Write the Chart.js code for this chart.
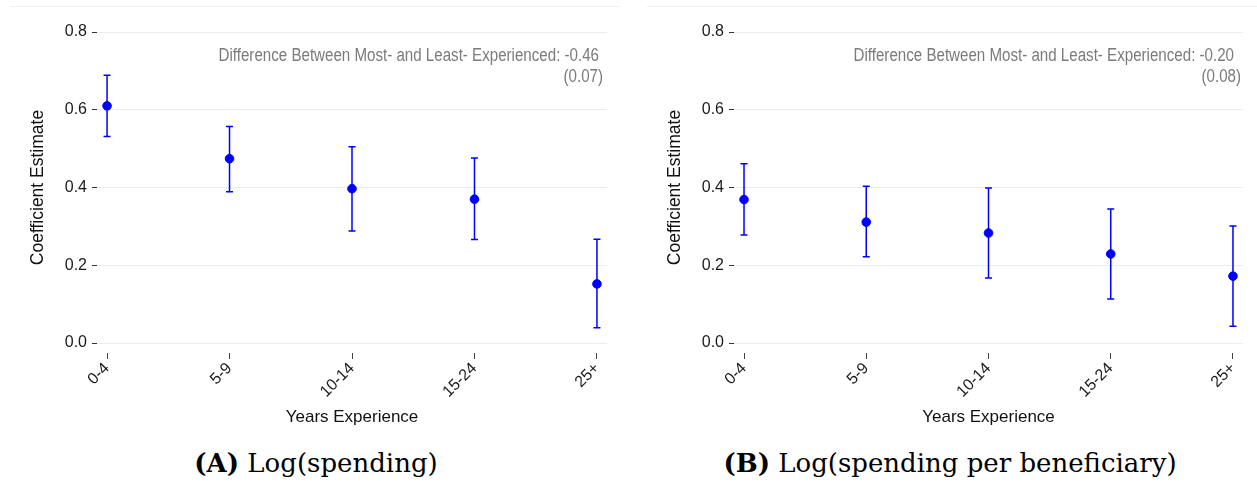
<!DOCTYPE html>
<html>
<head>
<meta charset="utf-8">
<script src="https://cdn.jsdelivr.net/npm/chart.js@4/dist/chart.umd.min.js"></script>
<style>
  body { margin: 0; background: #fff; width: 1257px; height: 499px; position: relative; overflow: hidden; }
  .panel { position: absolute; top: 0; width: 628px; height: 440px; }
  .topline { position: absolute; top: 6px; height: 1px; background: #eef1f1; }
  .cap { position: absolute; top: 447px; line-height: 32px; font-family: 'DejaVu Serif', 'Liberation Serif', serif;
         font-size: 26px; color: #000; white-space: nowrap; transform: translateX(-50%); }
</style>
</head>
<body>
<div class="topline" style="left:10px;width:610px"></div>
<div class="topline" style="left:647px;width:610px"></div>
<div class="panel" style="left:0"><canvas id="chartA" width="628" height="440"></canvas></div>
<div class="panel" style="left:637px"><canvas id="chartB" width="628" height="440"></canvas></div>
<div class="cap" style="left:316px"><b>(A)</b> Log(spending)</div>
<div class="cap" style="left:950px"><b>(B)</b> Log(spending per beneficiary)</div>

<script>
var categories = ['0-4', '5-9', '10-14', '15-24', '25+'];
var yTicks = [0, 0.2, 0.4, 0.6, 0.8];

// panel A: log(spending)
var estA = [0.610, 0.474, 0.397, 0.370, 0.152];
var lowA = [0.531, 0.389, 0.288, 0.266, 0.039];
var highA = [0.689, 0.557, 0.505, 0.476, 0.267];
var noteA = ['Difference Between Most- and Least- Experienced: -0.46', '(0.07)'];

// panel B: log(spending per beneficiary)
var estB = [0.369, 0.311, 0.283, 0.229, 0.172];
var lowB = [0.278, 0.222, 0.167, 0.113, 0.043];
var highB = [0.461, 0.403, 0.399, 0.345, 0.301];
var noteB = ['Difference Between Most- and Least- Experienced: -0.20', '(0.08)'];

var FONT = "'Liberation Sans', Arial, sans-serif";
var BLUE = '#0000ff';

// vertical bars with caps, drawn under the points
var errorBars = {
    id: 'errorBars',
    beforeDatasetsDraw: function (chart, args, opts) {
        var ctx = chart.ctx, xs = chart.scales.x, ys = chart.scales.y;
        ctx.save();
        ctx.strokeStyle = BLUE;
        ctx.lineWidth = 1.5;
        opts.low.forEach(function (lo, i) {
            var x = xs.getPixelForValue(i);
            var y1 = ys.getPixelForValue(lo);
            var y2 = ys.getPixelForValue(opts.high[i]);
            ctx.beginPath();
            ctx.moveTo(x, y1); ctx.lineTo(x, y2);
            ctx.moveTo(x - 3.5, y1); ctx.lineTo(x + 3.5, y1);
            ctx.moveTo(x - 3.5, y2); ctx.lineTo(x + 3.5, y2);
            ctx.stroke();
        });
        ctx.restore();
    }
};

// grey note in the upper right, narrowed like the original condensed face
var noteText = {
    id: 'noteText',
    afterDraw: function (chart, args, opts) {
        var ctx = chart.ctx, right = chart.chartArea.right;
        ctx.save();
        ctx.font = '18px ' + FONT;
        ctx.fillStyle = '#7b7b7b';
        ctx.textAlign = 'right';
        ctx.textBaseline = 'middle';
        [56, 77].forEach(function (y, k) {
            ctx.save();
            ctx.translate(right - opts.inset[k], y);
            ctx.scale(0.84, 1);
            ctx.fillText(opts.lines[k], 0, 0);
            ctx.restore();
        });
        ctx.restore();
    }
};

function makePanel(id, est, low, high, note, rightPad, inset) {
    var ctx = document.getElementById(id).getContext('2d');
    return new Chart(ctx, {
        type: 'scatter',
        data: {
            datasets: [{
                data: est.map(function (v, i) { return { x: i, y: v }; }),
                backgroundColor: BLUE,
                borderColor: BLUE,
                pointRadius: 4.3,
                pointHoverRadius: 4.3,
                clip: false
            }]
        },
        options: {
            responsive: false,
            animation: false,
            layout: { padding: { top: 32, right: rightPad, left: 0, bottom: 0 } },
            plugins: {
                legend: { display: false },
                tooltip: { enabled: false },
                errorBars: { low: low, high: high },
                noteText: { lines: note, inset: inset }
            },
            scales: {
                x: {
                    type: 'linear',
                    min: -0.082,
                    max: 4.082,
                    afterBuildTicks: function (s) { s.ticks = categories.map(function (c, i) { return { value: i }; }); },
                    afterFit: function (s) { s.height = 97; },
                    border: { display: false },
                    grid: { drawOnChartArea: false, drawTicks: true, tickLength: 16, tickColor: '#444', tickWidth: 1, tickBorderDash: [0, 10, 6, 100] },
                    ticks: {
                        autoSkip: false, minRotation: 45, maxRotation: 45, padding: 0,
                        color: '#1a1a1a', font: { family: FONT, size: 16 },
                        callback: function (v) { return categories[v]; }
                    },
                    title: { display: true, text: 'Years Experience', color: '#111', font: { family: FONT, size: 17 }, padding: { top: 0, bottom: 12 } }
                },
                y: {
                    min: 0,
                    max: 0.8,
                    afterBuildTicks: function (s) { s.ticks = yTicks.map(function (v) { return { value: v }; }); },
                    afterFit: function (s) { s.width = 97; },
                    border: { display: false },
                    grid: { color: '#e8eded', lineWidth: 1, drawTicks: true, tickLength: 5, tickColor: '#333', tickWidth: 1 },
                    ticks: {
                        padding: 5, color: '#1a1a1a', font: { family: FONT, size: 16 },
                        callback: function (v) { return v.toFixed(1); }
                    },
                    title: { display: true, text: 'Coefficient Estimate', color: '#111', font: { family: FONT, size: 17.5 }, padding: { top: 28, bottom: 0 } }
                }
            }
        },
        plugins: [errorBars, noteText]
    });
}

makePanel('chartA', estA, lowA, highA, noteA, 21, [8, 4]);
makePanel('chartB', estB, lowB, highB, noteB, 22, [9, 2]);
</script>
</body>
</html>
